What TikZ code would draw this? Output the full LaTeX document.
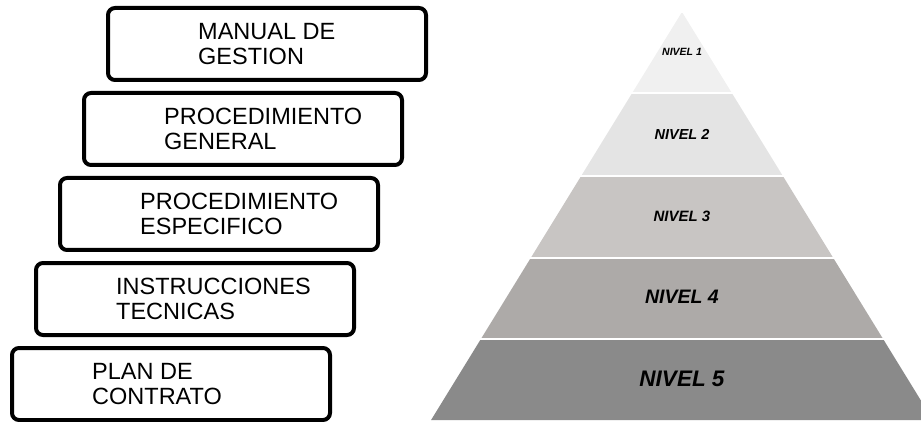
\documentclass[tikz,border=0pt]{standalone}
\usepackage{fontspec}
\setmainfont{Liberation Sans}

\definecolor{nivel1}{RGB}{240,240,240}
\definecolor{nivel2}{RGB}{228,228,228}
\definecolor{nivel3}{RGB}{200,197,195}
\definecolor{nivel4}{RGB}{173,170,168}
\definecolor{nivel5}{RGB}{138,138,138}

\begin{document}
\begin{tikzpicture}[x=1pt,y=-1pt,
	doc node/.style={draw,line width=4pt,rounded corners=7pt,minimum width=318pt,minimum height=72pt,inner sep=0pt},
	doc text/.style={anchor=west,align=left,inner sep=0pt,font=\fontsize{23.5}{25}\selectfont},
	level text/.style={inner sep=0pt,font=\bfseries\itshape}
]

	\clip (0,0) rectangle (921,422);

	\def \ax {682};
	\def \ay {12};
	\def \sl {0.615};

	% the pyramid
	\foreach \i/\yt/\yb/\yc/\fs in {1/12/93/52/10.5,2/93/176/134/14.5,3/176/258/216/15,4/258/339/297/19.5,5/339/420/379/22.5} {
		\fill[nivel\i] ({\ax-\sl*(\yt-\ay)},\yt) -- ({\ax+\sl*(\yt-\ay)},\yt) -- ({\ax+\sl*(\yb-\ay)},\yb) -- ({\ax-\sl*(\yb-\ay)},\yb) -- cycle;
		\draw[white,line width=1.5pt] ({\ax-\sl*(\yt-\ay)-2},\yt) -- ({\ax+\sl*(\yt-\ay)+2},\yt);
		\node[level text,font=\fontsize{\fs}{\fs}\bfseries\itshape\selectfont] (n\i) at (\ax,\yc) {NIVEL \i};
	}

	% the documents
	\foreach \i/\dx/\txt in {1/92/{MANUAL DE\\GESTION},2/82/{PROCEDIMIENTO\\GENERAL},3/82/{PROCEDIMIENTO\\ESPECIFICO},4/82/{INSTRUCCIONES\\TECNICAS},5/82/{PLAN DE\\CONTRATO}} {
		\node[doc node] (b\i) at ({267-24*(\i-1)},{44+85*(\i-1)}) {};
		\node[doc text] (t\i) at ([xshift=\dx pt]b\i.west) {\txt};
	}
\end{tikzpicture}
\end{document}
